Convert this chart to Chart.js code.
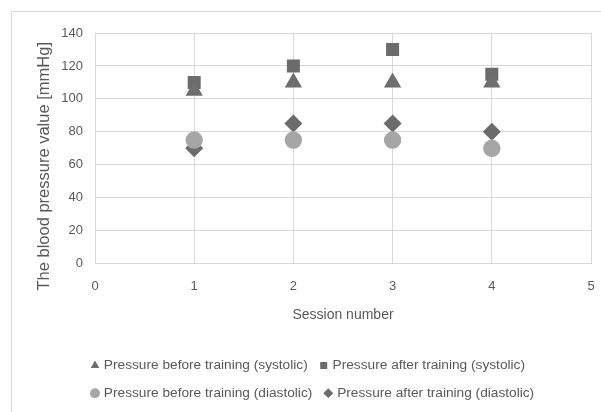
<!DOCTYPE html>
<html>
<head>
<meta charset="utf-8">
<script src="https://cdn.jsdelivr.net/npm/chart.js@4"></script>
<style>
  html, body { margin: 0; padding: 0; background: #fff; }
  #wrap { position: relative; width: 601px; height: 412px; overflow: hidden; }
  #frame { position: absolute; left: 11px; top: 11px; width: 700px; height: 500px; border: 1px solid #d9d9d9; }
  canvas { position: absolute; left: 0; top: 0; }
</style>
</head>
<body>
<div id="wrap">
  <div id="frame"></div>
  <canvas id="c" width="601" height="412"></canvas>
</div>
<script>
  // Session numbers (x) and blood pressure values (y).
  const sessions = [ 1, 2, 3, 4 ];
  const beforeSystolic = [ 105, 110, 110, 110 ];
  const afterSystolic = [ 110, 120, 130, 115 ];
  const beforeDiastolic = [ 75, 75, 75, 70 ];
  const afterDiastolic = [ 70, 85, 85, 80 ];

  const seriesNames = [
    'Pressure before training (systolic)',
    'Pressure after training (systolic)',
    'Pressure before training (diastolic)',
    'Pressure after training (diastolic)',
  ];

  const FONT = "'Liberation Sans', Arial, sans-serif";
  const TEXT = '#595959';
  const GRID = '#d9d9d9';

  const pts = ( ys ) => sessions.map( ( x, i ) => ( { x, y: ys[ i ] } ) );

  const series = [
    { data: beforeSystolic, style: 'triangle', color: '#6e6e6e', radius: 10 },
    { data: afterSystolic, style: 'rect', color: '#6b6b6b', radius: 9.2 },
    { data: beforeDiastolic, style: 'circle', color: '#a6a6a6', radius: 8.7 },
    { data: afterDiastolic, style: 'rectRot', color: '#6b6b6b', radius: 9 },
  ];

  const datasets = series.map( ( s, i ) => ( {
    label: seriesNames[ i ],
    data: pts( s.data ),
    pointStyle: s.style,
    pointRadius: s.radius,
    pointHoverRadius: s.radius,
    backgroundColor: s.color,
    borderColor: s.color,
    borderWidth: 0,
    showLine: false,
  } ) );

  // Excel places the legend and the y title against its own box, not the
  // plot: nudge them once layout is done.
  const excelNudge = {
    id: 'excelNudge',
    beforeDraw( chart ) {
      chart.legend.left = 79;
      chart.scales.y.bottom = chart.chartArea.bottom + 36;
    },
  };

  new Chart( document.getElementById( 'c' ), {
    type: 'scatter',
    data: { datasets },
    plugins: [ excelNudge ],
    options: {
      responsive: false,
      animation: false,
      layout: { padding: { top: 33, right: 7, left: 0, bottom: 2 } },
      plugins: {
        tooltip: { enabled: false },
        legend: {
          position: 'bottom',
          align: 'start',
          labels: {
            usePointStyle: true,
            boxWidth: 4,
            boxHeight: 7,
            padding: 14,
            color: TEXT,
            font: { family: FONT, size: 13.7 },
          },
        },
      },
      scales: {
        x: {
          min: 0,
          max: 5,
          ticks: { stepSize: 1, color: TEXT, padding: 3, font: { family: FONT, size: 13 } },
          grid: { color: GRID, drawTicks: true, tickLength: 12, tickColor: 'rgba(0,0,0,0)' },
          border: { display: false },
          title: { display: true, text: 'Session number', color: TEXT, font: { family: FONT, size: 14 }, padding: { top: 6, bottom: 21 } },
          afterFit( scale ) { scale.height = 81; },
        },
        y: {
          min: 0,
          max: 140,
          ticks: { stepSize: 20, color: TEXT, padding: 12, font: { family: FONT, size: 13 } },
          grid: { color: GRID, drawTicks: false },
          border: { display: false },
          title: { display: true, text: 'The blood pressure value [mmHg]', color: TEXT, font: { family: FONT, size: 16.5 }, padding: { top: 35, bottom: 0 } },
          afterFit( scale ) { scale.width = 95; },
        },
      },
    },
  } );
</script>
</body>
</html>
